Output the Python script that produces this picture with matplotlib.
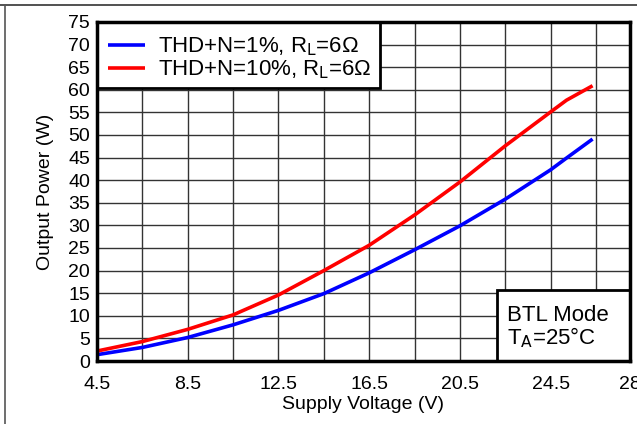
import matplotlib
matplotlib.use("Agg")
import matplotlib.pyplot as plt
from matplotlib.patches import Rectangle
from matplotlib.lines import Line2D

plt.rcParams['font.family'] = ['Liberation Sans', 'DejaVu Sans']

voltage = [4.5, 6.5, 8.5, 10.5, 12.5, 14.5, 16.5, 18.5, 20.5, 22.5, 24.5, 25.2, 26.35]
thd1 = [1.4, 3.0, 5.2, 8.0, 11.2, 14.9, 19.5, 24.6, 29.9, 35.8, 42.3, 44.9, 49.1]
thd10 = [2.2, 4.3, 7.0, 10.2, 14.6, 20.0, 25.6, 32.3, 39.6, 47.6, 55.1, 57.7, 60.9]

x_ticks = [4.5, 8.5, 12.5, 16.5, 20.5, 24.5, 28]
x_tick_labels = ['4.5', '8.5', '12.5', '16.5', '20.5', '24.5', '28']
x_grid = [4.5, 6.5, 8.5, 10.5, 12.5, 14.5, 16.5, 18.5, 20.5, 22.5, 24.5, 26.5]
y_ticks = list(range(0, 80, 5))

W, H = 637, 424
fig = plt.figure(figsize=(W / 100, H / 100), dpi=100)
ax = fig.add_axes([97 / W, 1 - 361 / H, (630 - 97) / W, (361 - 22) / H])

# outer frame (top and left lines)
fig.add_artist(Line2D([0, 1], [1 - 4.5 / H, 1 - 4.5 / H], color='#333333', lw=1.2, transform=fig.transFigure))
fig.add_artist(Line2D([5 / W, 5 / W], [0, 1 - 4.5 / H], color='#555555', lw=1.2, transform=fig.transFigure))

for gx in x_grid:
    ax.axvline(gx, color='#333333', lw=1.0, zorder=1)
for gy in y_ticks:
    ax.axhline(gy, color='#333333', lw=1.0, zorder=1)

l1, = ax.plot(voltage, thd1, color='#0000ff', lw=2.6, zorder=3, solid_capstyle='butt')
l2, = ax.plot(voltage, thd10, color='#ff0000', lw=2.6, zorder=3, solid_capstyle='butt')

ax.set_xlim(4.5, 28)
ax.set_ylim(0, 75)
ax.set_xticks(x_ticks)
ax.set_xticklabels(x_tick_labels)
ax.set_yticks(y_ticks)
ax.tick_params(axis='x', length=0, labelsize=14, pad=11)
ax.tick_params(axis='y', length=0, labelsize=14, pad=5)
for s in ax.spines.values():
    s.set_linewidth(2.5)
    s.set_color('black')
    s.set_zorder(6)

ax.set_xlabel('Supply Voltage (V)', fontsize=14, labelpad=2)
ax.set_ylabel('Output Power (W)', fontsize=14, labelpad=10)

# legend box
ax.add_patch(Rectangle((0, 0.805), 0.531, 0.195, transform=ax.transAxes,
                       facecolor='white', edgecolor='black', lw=2, zorder=4, clip_on=False))
leg = ax.legend([l1, l2], ['THD+N=1%, R$_\\mathrm{L}$=6\u03a9', 'THD+N=10%, R$_\\mathrm{L}$=6\u03a9'],
                loc='upper left', bbox_to_anchor=(0.0206, 0.959), frameon=False,
                fontsize=16, handlelength=1.67, handletextpad=0.58, labelspacing=0.0,
                borderpad=0, borderaxespad=0)
leg.set_zorder(5)

# BTL box
ax.add_patch(Rectangle((0.750, 0), 0.25, 0.209, transform=ax.transAxes,
                       facecolor='white', edgecolor='black', lw=2, zorder=4))
ax.text(0.769, 0.134, 'BTL Mode', transform=ax.transAxes, fontsize=16, va='center', ha='left', zorder=5)
ax.text(0.769, 0.069, 'T$_\\mathrm{A}$=25\u00b0C', transform=ax.transAxes, fontsize=16, va='center', ha='left', zorder=5)

fig.savefig('out.png', dpi=100)
